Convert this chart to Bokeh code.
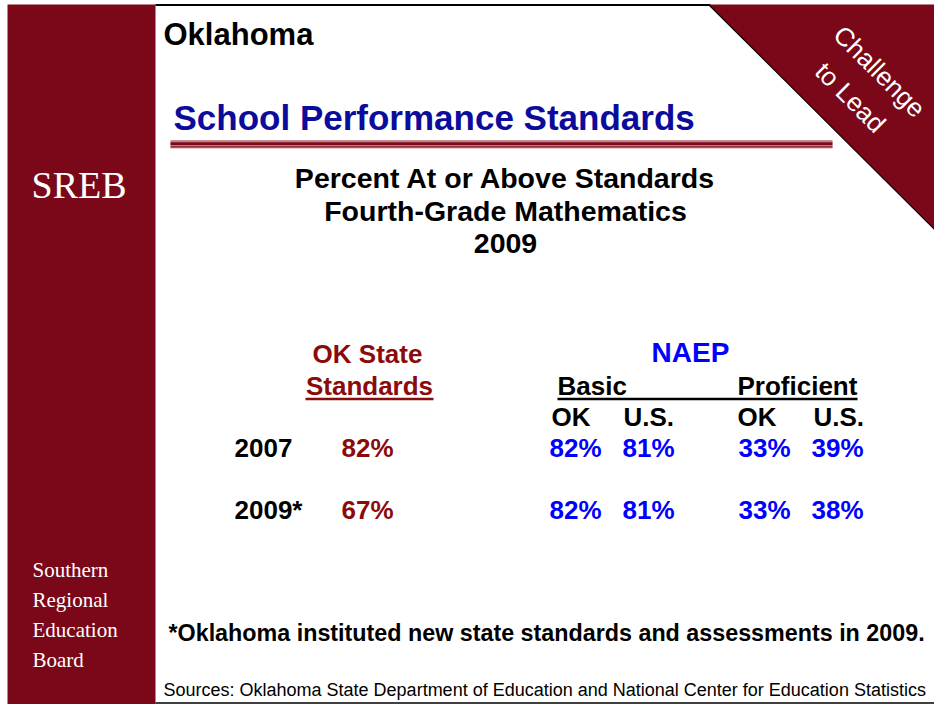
from bokeh.plotting import figure
from bokeh.models import Range1d, ColumnDataSource
from bokeh.core.properties import value
from bokeh.embed import file_html
from bokeh.resources import INLINE

# ---- data ----
years = ["2007", "2009*"]
ok_state = [82, 67]
naep_basic_ok = [82, 82]
naep_basic_us = [81, 81]
naep_prof_ok = [33, 33]
naep_prof_us = [39, 38]
column_headers = ["OK", "U.S.", "OK", "U.S."]
subtitle_lines = ["Percent At or Above Standards", "Fourth-Grade Mathematics", "2009"]
sidebar_words = ["Southern", "Regional", "Education", "Board"]

DARK_RED = "#7a0818"
TEXT_RED = "#8b0a0a"
BLUE = "#0000ff"
TITLE_BLUE = "#0b0b9c"
SANS = value("Liberation Sans")
SERIF = value("Liberation Serif")

p = figure(width=934, height=704, x_range=Range1d(0, 934), y_range=Range1d(704, 0),
           output_backend="svg", toolbar_location=None, min_border=0)
p.axis.visible = False
p.grid.visible = False
p.outline_line_color = None
p.background_fill_color = "white"
p.border_fill_color = "white"

# sidebar
p.quad(left=[7], right=[155], top=[4], bottom=[704], fill_color=DARK_RED, line_color=None)
# top and bottom border lines
p.segment(x0=[155], y0=[4.5], x1=[710], y1=[4.5], line_color="black", line_width=2)
p.segment(x0=[155], y0=[702.5], x1=[934], y1=[702.5], line_color="black", line_width=1.5)
# triangle top-right
p.patch(x=[708, 934, 934], y=[4, 4, 229], fill_color=DARK_RED, line_color=None)
p.segment(x0=[708], y0=[4], x1=[934], y1=[229], line_color="black", line_width=1.2)
p.text(x=[879], y=[71], text=["Challenge"], angle=-45, angle_units="deg",
       text_align="center", text_baseline="middle", text_color="white",
       text_font=SANS, text_font_size="26px")
p.text(x=[850], y=[97], text=["to Lead"], angle=-45, angle_units="deg",
       text_align="center", text_baseline="middle", text_color="white",
       text_font=SANS, text_font_size="26px")

# sidebar text
p.text(x=[31], y=[184], text=["SREB"], text_color="white", text_font=SERIF,
       text_font_size="38px", text_baseline="middle")
p.text(x=[32] * 4, y=[569, 599, 629, 659], text=sidebar_words, text_color="white",
       text_font=SERIF, text_font_size="21px", text_baseline="middle")

# headings
p.text(x=[163], y=[33.5], text=["Oklahoma"], text_color="black", text_font=SANS,
       text_font_style="bold", text_font_size="31px", text_baseline="middle")
p.text(x=[173], y=[117], text=["School Performance Standards"], text_color=TITLE_BLUE,
       text_font=SANS, text_font_style="bold", text_font_size="35px",
       text_baseline="middle")
# decorative underline
p.quad(left=[170], right=[832], top=[140], bottom=[148], fill_color="#d9a3aa", line_color=None)
p.segment(x0=[170], y0=[143.3], x1=[832], y1=[143.3], line_color=DARK_RED, line_width=3)
p.segment(x0=[170], y0=[146.3], x1=[832], y1=[146.3], line_color=DARK_RED, line_width=1.2)
p.segment(x0=[170], y0=[140.5], x1=[832], y1=[140.5], line_color="#b0505e", line_width=1)

p.text(x=[505] * 3, y=[177, 210, 243], text=subtitle_lines, text_color="black",
       text_font=SANS, text_font_style="bold", text_font_size="28.5px",
       text_align="center", text_baseline="middle")

# table headers
p.text(x=[367, 369], y=[353, 385], text=["OK State", "Standards"], text_color=TEXT_RED,
       text_font=SANS, text_font_style="bold", text_font_size="26px",
       text_align="center", text_baseline="middle")
p.segment(x0=[305], y0=[398.5], x1=[433], y1=[398.5], line_color=TEXT_RED, line_width=2.5)
p.text(x=[690], y=[352], text=["NAEP"], text_color=BLUE, text_font=SANS,
       text_font_style="bold", text_font_size="28px", text_align="center",
       text_baseline="middle")
p.text(x=[557, 737], y=[385, 385], text=["Basic", "Proficient"], text_color="black",
       text_font=SANS, text_font_style="bold", text_font_size="26px",
       text_baseline="middle")
p.segment(x0=[557], y0=[398.5], x1=[857], y1=[398.5], line_color="black", line_width=2.5)
p.text(x=[551, 623, 737, 813], y=[416] * 4, text=column_headers, text_color="black",
       text_font=SANS, text_font_style="bold", text_font_size="26px",
       text_baseline="middle")

# table rows
row_y = [447, 509]
p.text(x=[234] * 2, y=row_y, text=years, text_color="black", text_font=SANS,
       text_font_style="bold", text_font_size="26px", text_baseline="middle")
p.text(x=[341] * 2, y=row_y, text=[f"{v}%" for v in ok_state], text_color=TEXT_RED,
       text_font=SANS, text_font_style="bold", text_font_size="26px",
       text_baseline="middle")
cols = [(549, naep_basic_ok), (622, naep_basic_us), (738, naep_prof_ok), (811, naep_prof_us)]
for cx, vals in cols:
    src = ColumnDataSource(dict(x=[cx] * 2, y=row_y, t=[f"{v}%" for v in vals]))
    p.text(x="x", y="y", text="t", source=src, text_color=BLUE, text_font=SANS,
           text_font_style="bold", text_font_size="26px", text_baseline="middle")

# notes
p.text(x=[168], y=[632], text=["*Oklahoma instituted new state standards and assessments in 2009."],
       text_color="black", text_font=SANS, text_font_style="bold", text_font_size="23.3px",
       text_baseline="middle")
p.text(x=[163], y=[689], text=["Sources: Oklahoma State Department of Education and National Center for Education Statistics"],
       text_color="black", text_font=SANS, text_font_size="18px", text_baseline="middle")

open("out.html", "w").write(file_html(p, INLINE))
